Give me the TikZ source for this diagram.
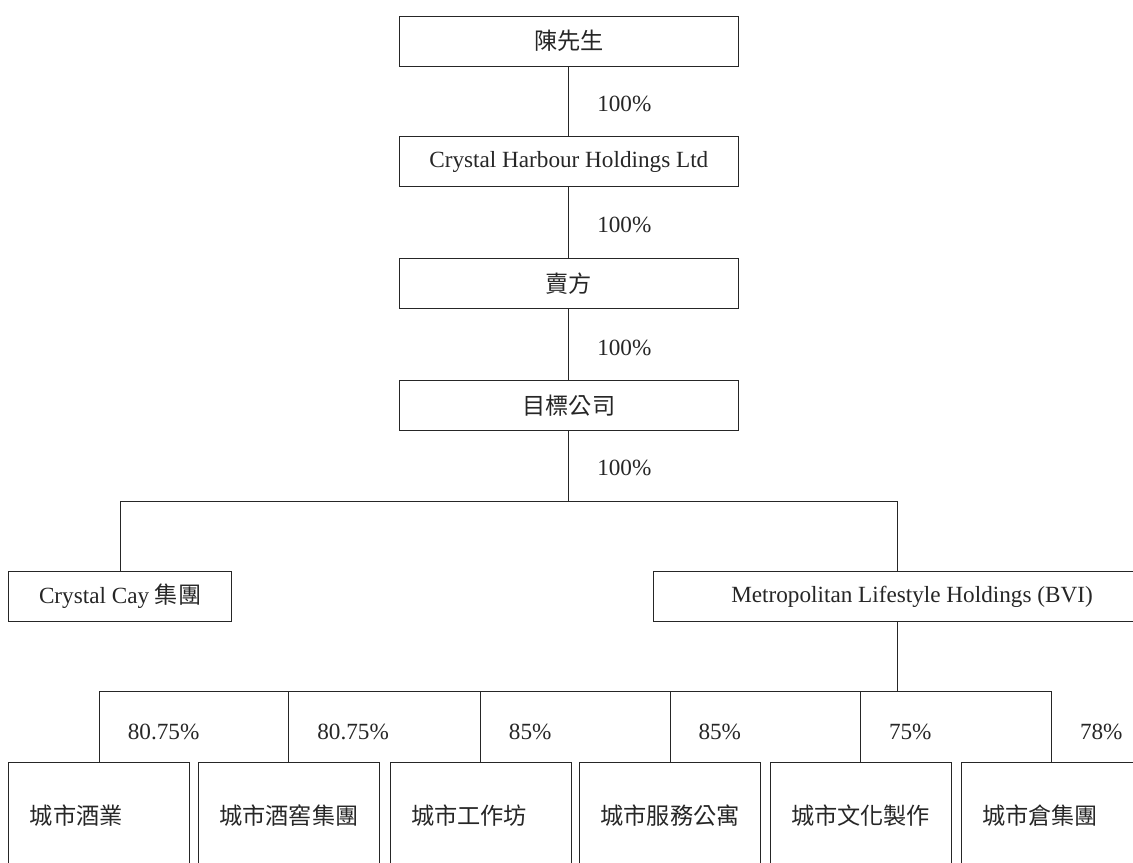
\documentclass[tikz,border=0pt]{standalone}
\usepackage{fontspec}
\setmainfont{Liberation Serif}
\newfontfamily\cjk{Noto Sans CJK TC}
\usetikzlibrary{positioning, calc}

\begin{document}
\begin{tikzpicture}[
  font=\fontsize{16.5}{19.5}\selectfont,
  color=black!85, line width=0.7pt,
  box/.style={draw, rectangle, align=center, minimum width=8.475cm, minimum height=1.25cm, inner sep=0pt},
  midbox/.style={draw, rectangle, align=center, minimum height=1.27cm, inner sep=0pt},
  subbox/.style={draw, rectangle, text width=3.475cm, inner xsep=0.525cm, inner ysep=0pt, align=left, minimum height=2.7cm},
  pct/.style={anchor=west, inner sep=0pt, xshift=0.7cm}
]
  \useasboundingbox (0,0) rectangle (28.325,-21.575);
  \clip (0,0) rectangle (28.325,-21.575);

  % ownership chain
  \node[box] (chan)    at (14.22,-1.025) {\cjk 陳先生};
  \node[box] (harbour) at (14.22,-4.04)  {Crystal Harbour Holdings Ltd};
  \node[box] (seller)  at (14.22,-7.09)  {\cjk 賣方};
  \node[box] (target)  at (14.22,-10.14) {\cjk 目標公司};

  \draw (chan) -- (harbour) node[pct, pos=0.54] {100\%};
  \draw (harbour) -- (seller) node[pct, pos=0.54] {100\%};
  \draw (seller) -- (target) node[pct, pos=0.54] {100\%};

  % second level
  \coordinate (bus1) at (0,-12.525);
  \node[midbox, minimum width=5.575cm] (cay)   at (3.005,-14.91) {Crystal Cay {\cjk 集團}};
  \node[midbox, minimum width=12.95cm] (metro) at (22.8,-14.91)  {Metropolitan Lifestyle Holdings (BVI)};
  \coordinate (metroin)  at ([xshift=-0.375cm]metro.north);
  \coordinate (metroout) at ([xshift=-0.375cm]metro.south);

  \draw (target) -- (target.south |- bus1) node[pct, pos=0.53] {100\%};
  \draw (cay.north) |- (metroin |- bus1) -- (metroin);

  % subsidiaries
  \coordinate (bus2) at (0,-17.29);
  \node[subbox] (wine)      at (2.484,-20.4)   {\cjk 城市酒業};
  \node[subbox] (cellar)    at (7.221,-20.4)   {\cjk 城市酒窖集團};
  \node[subbox] (workshop)  at (12.0125,-20.4) {\cjk 城市工作坊};
  \node[subbox] (apartment) at (16.75,-20.4)   {\cjk 城市服務公寓};
  \node[subbox] (culture)   at (21.5125,-20.4) {\cjk 城市文化製作};
  \node[subbox] (warehouse) at (26.2875,-20.4) {\cjk 城市倉集團};

  \draw (metroout) -- (metroout |- bus2);
  \draw (wine.north |- bus2) -- (warehouse.north |- bus2);
  \foreach \b/\p in {wine/80.75, cellar/80.75, workshop/85, apartment/85, culture/75, warehouse/78}
    \draw (\b.north |- bus2) -- (\b.north) node[pct, pos=0.58] {\p\%};
\end{tikzpicture}
\end{document}
